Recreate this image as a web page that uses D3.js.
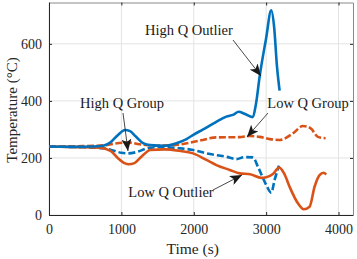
<!DOCTYPE html>
<html>
<head>
<meta charset="utf-8">
<script src="https://cdn.jsdelivr.net/npm/d3@7"></script>
<style>
  body { margin: 0; background: #fff; }
  text { font-family: "Liberation Serif", "DejaVu Serif", serif; }
</style>
</head>
<body>
<div id="chart"></div>
<script>
// series: [time (s), temperature (°C)]
var highOutlier = [[0,240],[300,239],[600,240],[750,243],[850,255],[950,280],[1050,298],[1120,294],[1200,275],[1300,252],[1400,245],[1600,243],[1800,255],[1900,266],[2000,282],[2130,300],[2300,325],[2450,345],[2550,352],[2620,362],[2700,355],[2810,343],[2860,390],[2910,485],[3000,620],[3070,718],[3110,660],[3150,520],[3186,436]];
var lowOutlier = [[0,240],[400,238],[700,236],[850,225],[950,200],[1050,181],[1100,178],[1180,182],[1280,205],[1400,228],[1600,230],[1800,225],[1990,216],[2175,193],[2313,175],[2497,158],[2634,146],[2780,143],[2933,130],[3000,132],[3094,144],[3180,166],[3250,145],[3324,99],[3439,41],[3520,20],[3600,29],[3669,99],[3738,140],[3793,148],[3830,142]];
var highGroup = [[0,240],[400,238],[750,234],[900,225],[1000,218],[1094,216],[1200,220],[1350,233],[1500,238],[1800,234],[1990,228],[2175,216],[2451,204],[2589,196],[2700,203],[2818,202],[2887,169],[3002,105],[3071,78],[3117,123],[3177,173]];
var lowGroup = [[0,240],[400,241],[750,244],[900,250],[1094,254],[1250,248],[1450,243],[1650,244],[1853,249],[2100,262],[2313,272],[2634,273],[2772,277],[2910,274],[3050,266],[3186,263],[3370,286],[3508,312],[3570,310],[3623,302],[3715,274],[3821,269]];

var xTicks = [0, 1000, 2000, 3000, 4000];
var yTicks = [0, 200, 400, 600];

var notes = [
  {label: 'High Q Outlier', tx: 189, ty: 30, from: [233, 40], to: [261, 76]},
  {label: 'High Q Group', tx: 122, ty: 103, from: [123, 113], to: [128, 151]},
  {label: 'Low Q Group', tx: 308, ty: 103, from: [268, 113], to: [247, 137]},
  {label: 'Low Q Outlier', tx: 171, ty: 192, from: [213, 190], to: [242, 175]}
];

var W = 357, H = 259,
    margin = {top: 2.5, right: 4, bottom: 44, left: 49},
    w = W - margin.left - margin.right,
    h = H - margin.top - margin.bottom;

var svg = d3.select('#chart').append('svg')
    .attr('width', W)
    .attr('height', H);

var g = svg.append('g')
    .attr('transform', 'translate(' + margin.left + ',' + margin.top + ')');

var x = d3.scaleLinear().domain([0, 4200]).range([0, w]);
var y = d3.scaleLinear().domain([0, 745]).range([h, 0]);

// grid
g.selectAll('.gx').data(xTicks).enter().append('line')
    .attr('x1', function(d){ return x(d); })
    .attr('x2', function(d){ return x(d); })
    .attr('y1', 0).attr('y2', h)
    .style('stroke', '#e3e3e3').style('stroke-width', 1);
g.selectAll('.gy').data(yTicks).enter().append('line')
    .attr('x1', 0).attr('x2', w)
    .attr('y1', function(d){ return y(d); })
    .attr('y2', function(d){ return y(d); })
    .style('stroke', '#e3e3e3').style('stroke-width', 1);

// axes, ticks inward on all four sides
var axisColor = '#262626';
var fmt = d3.format('d');
var axBottom = g.append('g').attr('transform', 'translate(0,' + h + ')')
    .call(d3.axisBottom(x).tickValues(xTicks).tickSizeInner(-3).tickSizeOuter(0).tickPadding(9).tickFormat(fmt));
var axLeft = g.append('g')
    .call(d3.axisLeft(y).tickValues(yTicks).tickSizeInner(-3).tickSizeOuter(0).tickPadding(7).tickFormat(fmt));
var axTop = g.append('g')
    .call(d3.axisTop(x).tickValues(xTicks).tickSizeInner(-3).tickSizeOuter(0).tickFormat(''));
var axRight = g.append('g').attr('transform', 'translate(' + w + ',0)')
    .call(d3.axisRight(y).tickValues(yTicks).tickSizeInner(-3).tickSizeOuter(0).tickFormat(''));

[axBottom, axLeft, axTop, axRight].forEach(function(a){
  a.selectAll('path').style('stroke', axisColor).style('stroke-width', 1);
  a.selectAll('line').style('stroke', axisColor);
  a.selectAll('text').style('fill', '#262626').style('font-size', '14px')
    .style('font-family', '"Liberation Serif", serif');
});
axTop.select('path').style('stroke', '#8a8a8a');
axRight.select('path').style('stroke', '#8a8a8a');

// curves
var line = d3.line()
    .x(function(d){ return x(d[0]); })
    .y(function(d){ return y(d[1]); })
    .curve(d3.curveMonotoneX);

var blue = '#0072BD', orange = '#D95319';
var series = [
  {data: lowGroup, color: orange, dash: '7,2.5'},
  {data: highGroup, color: blue, dash: '7,3'},
  {data: lowOutlier, color: orange, dash: null},
  {data: highOutlier, color: blue, dash: null}
];
series.forEach(function(s){
  g.append('path')
      .datum(s.data)
      .attr('d', line)
      .style('fill', 'none')
      .style('stroke', s.color)
      .style('stroke-width', 2.6)
      .style('stroke-linejoin', 'round')
      .style('stroke-dasharray', s.dash);
});

// annotations
svg.append('defs').append('marker')
    .attr('id', 'head')
    .attr('viewBox', '0 -5 12 10')
    .attr('refX', 12).attr('refY', 0)
    .attr('markerUnits', 'userSpaceOnUse')
    .attr('markerWidth', 12).attr('markerHeight', 10)
    .attr('orient', 'auto')
  .append('path')
    .attr('d', 'M0,-5L12,0L0,5L3,0Z')
    .style('fill', '#1a1a1a');

notes.forEach(function(n){
  svg.append('line')
      .attr('x1', n.from[0]).attr('y1', n.from[1])
      .attr('x2', n.to[0]).attr('y2', n.to[1])
      .style('stroke', '#1a1a1a')
      .style('stroke-width', 0.8)
      .attr('marker-end', 'url(#head)');
  svg.append('text')
      .attr('x', n.tx).attr('y', n.ty)
      .attr('text-anchor', 'middle')
      .attr('dominant-baseline', 'central')
      .style('font-size', '14.5px')
      .style('fill', '#1a1a1a')
      .text(n.label);
});

// axis titles
svg.append('text')
    .attr('x', margin.left + x(2000) - 1)
    .attr('y', 248)
    .attr('text-anchor', 'middle')
    .attr('dominant-baseline', 'central')
    .style('font-size', '15.5px')
    .style('fill', '#262626')
    .text('Time (s)');
svg.append('text')
    .attr('transform', 'translate(12,' + 110 + ') rotate(-90)')
    .attr('text-anchor', 'middle')
    .attr('dominant-baseline', 'central')
    .style('font-size', '15px')
    .style('fill', '#262626')
    .text('Temperature (°C)');
</script>
</body>
</html>
